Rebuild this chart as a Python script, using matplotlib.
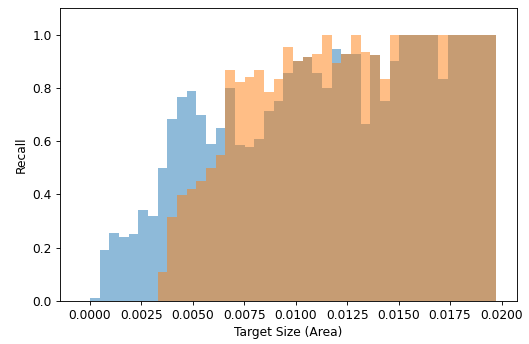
import numpy as np
import matplotlib
matplotlib.use('Agg')
import matplotlib.pyplot as plt

bin_width = 0.00047
first_edge = -0.00047

# recall per size bin (first bin is empty)
recall_blue = [0.0,
               0.01, 0.19, 0.255, 0.24, 0.252, 0.342, 0.32, 0.50, 0.684, 0.767,
               0.789, 0.699, 0.59, 0.65, 0.80, 0.586, 0.578, 0.608, 0.713, 0.751,
               0.856, 0.901, 0.916, 0.856, 0.80, 0.946, 0.928, 0.928, 0.665, 0.925,
               0.751, 0.901, 1.0, 1.0, 1.0, 1.0, 0.834, 1.0, 1.0, 1.0,
               1.0, 1.0]
recall_orange = [0.0,
                 0.0, 0.0, 0.0, 0.0, 0.0, 0.0, 0.0, 0.109, 0.316, 0.398,
                 0.42, 0.45, 0.50, 0.548, 0.868, 0.822, 0.841, 0.868, 0.785, 0.834,
                 0.954, 0.901, 0.916, 0.928, 1.0, 0.894, 0.928, 1.0, 0.935, 0.925,
                 0.834, 1.0, 1.0, 1.0, 1.0, 1.0, 1.0, 1.0, 1.0, 1.0,
                 1.0, 1.0]

dpi = 80
plt.rcParams['font.size'] = 11
fig = plt.figure(figsize=(529 / dpi, 344 / dpi), dpi=dpi)
ax = fig.add_axes([59.5 / 529, 43 / 344, 457.5 / 529, 293 / 344])

edges = first_edge + bin_width * np.arange(len(recall_blue))
ax.bar(edges, recall_blue, width=bin_width, align='edge', alpha=0.5)
ax.bar(edges, recall_orange, width=bin_width, align='edge', alpha=0.5)

ax.set_ylim(0, 1.1)
ax.set_xlabel('Target Size (Area)')
ax.set_ylabel('Recall')

fig.savefig('out.png', dpi=dpi)
